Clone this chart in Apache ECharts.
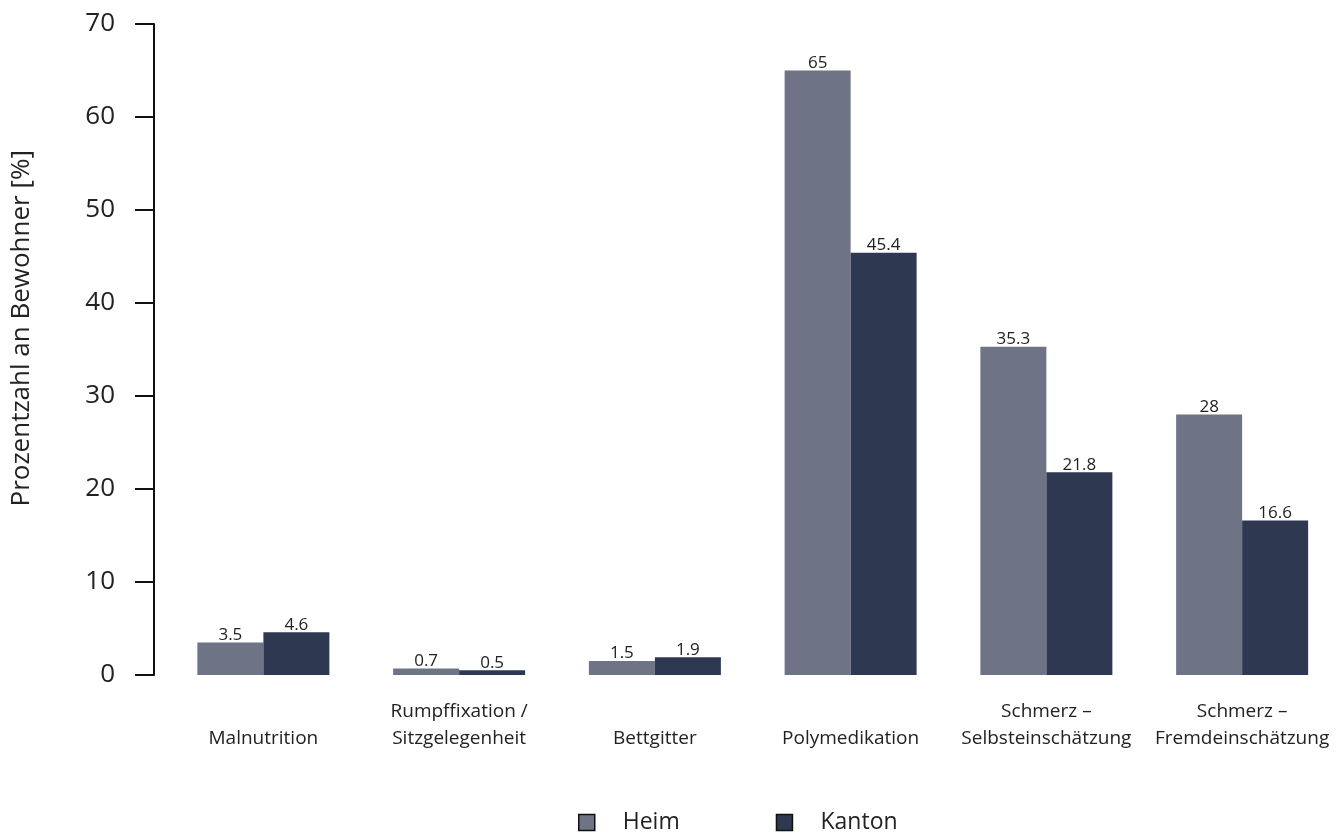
<!DOCTYPE html>
<html><head><meta charset="utf-8">
<script src="https://cdn.jsdelivr.net/npm/echarts@6/dist/echarts.min.js"></script>
<style>html,body{margin:0;padding:0;background:#fff}#c{width:1340px;height:833px}</style>
</head><body><div id="c"></div>
<script>
const categories = ["Malnutrition", "Rumpffixation /\nSitzgelegenheit", "Bettgitter", "Polymedikation", "Schmerz –\nSelbsteinschätzung", "Schmerz –\nFremdeinschätzung"];
const heim = [3.5, 0.7, 1.5, 65, 35.3, 28];
const kanton = [4.6, 0.5, 1.9, 45.4, 21.8, 16.6];
const yTicks = [0, 10, 20, 30, 40, 50, 60, 70];
const seriesNames = ["Heim", "Kanton"];
const yTitle = "Prozentzahl an Bewohner [%]";

const FONT = "Open Sans";
const chart = echarts.init(document.getElementById('c'));
const labelCfg = {show: true, position: 'top', distance: -1, color: '#222', fontSize: 17, fontFamily: FONT};
chart.setOption({
  animation: false,
  textStyle: {fontFamily: FONT},
  grid: {left: 165.5, top: 24, width: 1182, bottom: 158},
  graphic: [{
    type: 'text', left: 9, top: 150, rotation: Math.PI / 2,
    style: {text: yTitle, fontSize: 26, fill: '#222', fontFamily: FONT}
  }],
  xAxis: {
    type: 'category', data: categories,
    axisLine: {show: false}, axisTick: {show: false},
    axisLabel: {color: '#222', fontSize: 19, lineHeight: 27, verticalAlign: 'bottom', margin: 77, interval: 0, fontFamily: FONT}
  },
  yAxis: {
    type: 'value', min: yTicks[0], max: yTicks[yTicks.length - 1], interval: 10,
    offset: 11.5,
    axisLine: {show: true, lineStyle: {color: '#111', width: 2}},
    axisTick: {show: true, length: 19, lineStyle: {color: '#111', width: 2}},
    axisLabel: {color: '#222', fontSize: 26, margin: 39, fontFamily: FONT},
    splitLine: {show: false}
  },
  legend: {
    left: 573, top: 806, itemWidth: 16, itemHeight: 16, itemGap: 96, icon: 'rect',
    itemStyle: {borderColor: '#111', borderWidth: 1.5},
    textStyle: {fontSize: 23, color: '#222', padding: [0, 0, 0, 23], fontFamily: FONT},
    data: seriesNames
  },
  series: [
    {name: seriesNames[0], type: 'bar', data: heim, barWidth: 66, barGap: '0%',
     itemStyle: {color: '#6e7385'}, label: labelCfg},
    {name: seriesNames[1], type: 'bar', data: kanton, barWidth: 66, barGap: '0%',
     itemStyle: {color: '#2e3850'}, label: labelCfg}
  ]
});
</script></body></html>
